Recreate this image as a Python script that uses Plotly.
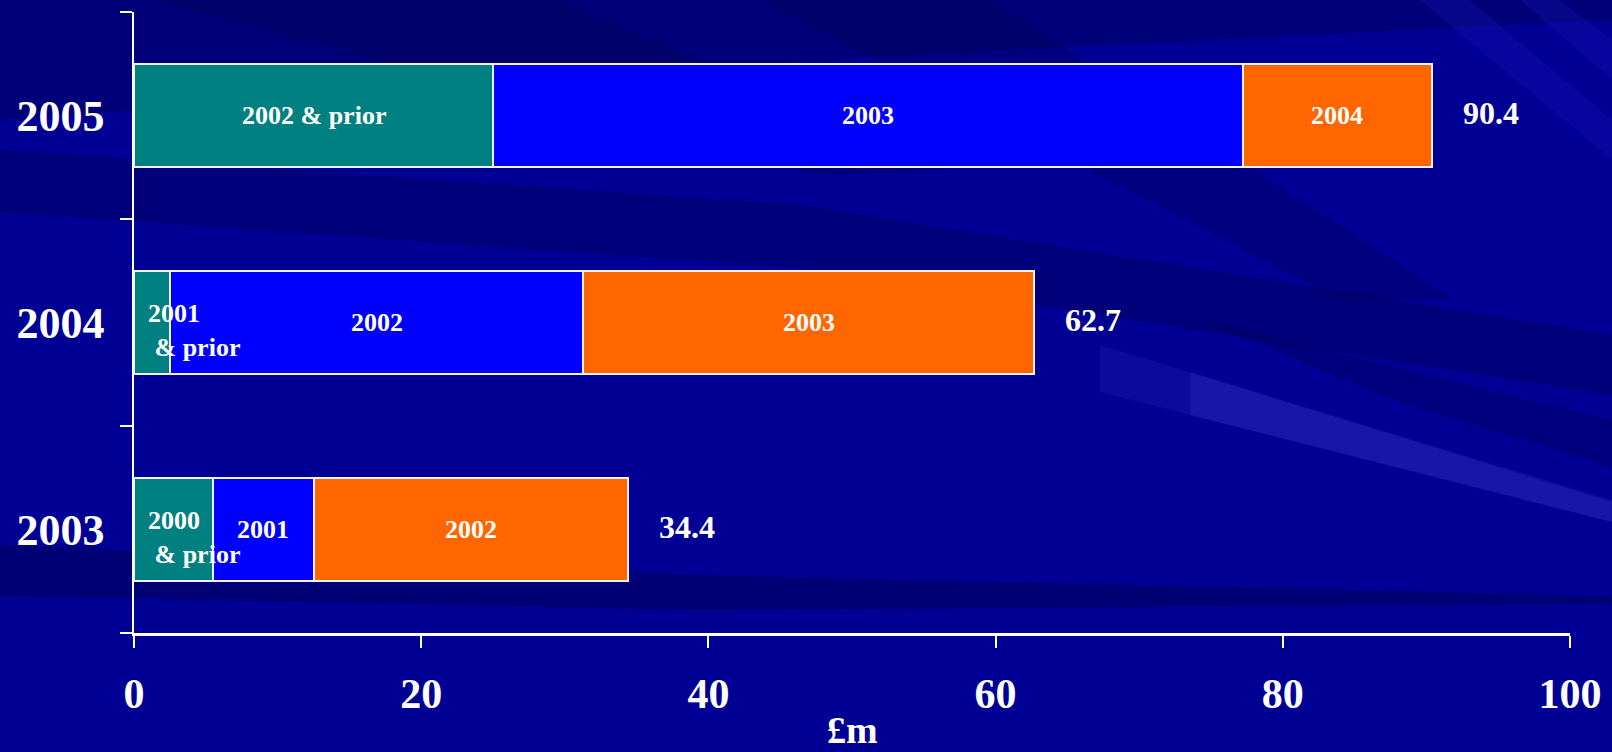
import plotly.graph_objects as go

# Claims development by underwriting year, £m
years = ["2003", "2004", "2005"]
seg_oldest = [5.5, 2.5, 25.0]
seg_middle = [7.0, 28.8, 52.2]
seg_latest = [21.9, 31.4, 13.2]
totals = [34.4, 62.7, 90.4]

lbl_oldest = ["2000<br>\u00a0& prior", "2001<br>\u00a0& prior", "2002 & prior"]
lbl_middle = ["2001", "2002", "2003"]
lbl_latest = ["2002", "2003", "2004"]

x_ticks = [0, 20, 40, 60, 80, 100]
x_title = "£m"

FONT = "Liberation Serif, Times New Roman, serif"
WHITE = "#ffffff"
COLORS = ["#008080", "#0000ff", "#ff6600"]

FIG_W, FIG_H = 1612, 752
M_L, M_R, M_T, M_B = 134, 42, 12, 119
PLOT_W = FIG_W - M_L - M_R
PLOT_H = FIG_H - M_T - M_B

fig = go.Figure()
for vals, col in zip([seg_oldest, seg_middle, seg_latest], COLORS):
    fig.add_trace(go.Bar(
        y=years, x=vals, orientation="h", width=0.5,
        marker=dict(color=col, line=dict(color="#f2f2f2", width=2)),
        hoverinfo="skip", showlegend=False,
    ))

annotations = []
label_font = dict(family=FONT, size=26, color=WHITE, weight="bold")
for i, yr in enumerate(years):
    bounds = [0, seg_oldest[i], seg_oldest[i] + seg_middle[i], totals[i]]
    labels = [lbl_oldest[i], lbl_middle[i], lbl_latest[i]]
    for k, lab in enumerate(labels):
        if "<br>" in lab:
            # two-line label sits at the start of the bar, spilling past a narrow segment
            annotations.append(dict(
                x=bounds[k], y=i, xref="x", yref="y", text=lab,
                xanchor="left", yanchor="middle", align="left",
                xshift=12, yshift=-8, showarrow=False, font=label_font))
        else:
            annotations.append(dict(
                x=(bounds[k] + bounds[k + 1]) / 2, y=i, xref="x", yref="y",
                text=lab, xanchor="center", yanchor="middle",
                showarrow=False, font=label_font))
    annotations.append(dict(
        x=totals[i], y=i, xref="x", yref="y", text=f"{totals[i]:.1f}",
        xanchor="left", yanchor="middle", xshift=29, yshift=3, showarrow=False,
        font=dict(family=FONT, size=32, color=WHITE, weight="bold")))

# axis unit label under the tick labels
annotations.append(dict(
    x=0.5, y=0, xref="paper", yref="paper", text=x_title,
    xanchor="center", yanchor="middle", yshift=-97, showarrow=False,
    font=dict(family=FONT, size=38, color=WHITE, weight="bold")))


def px_path(points):
    """Closed SVG path in paper coordinates from figure-pixel points."""
    pts = [((x - M_L) / PLOT_W, (FIG_H - M_B - y) / PLOT_H) for x, y in points]
    return "M " + " L ".join(f"{x:.4f},{y:.4f}" for x, y in pts) + " Z"


# Slide backdrop: soft diagonal streaks over a deep blue field
backdrop = [
    ([(0, 0), (1612, 0), (1612, 20), (900, 55), (0, 120)], "rgba(0,0,60,0.30)"),
    ([(150, 0), (560, 0), (950, 170), (820, 175)], "rgba(0,0,60,0.22)"),
    ([(760, 0), (990, 0), (1456, 300), (1340, 300)], "rgba(0,0,60,0.22)"),
    ([(0, 150), (800, 205), (1612, 335), (1612, 395), (800, 268), (0, 212)], "rgba(0,0,60,0.28)"),
    ([(1200, 320), (1612, 420), (1612, 467), (1393, 400)], "rgba(0,0,60,0.25)"),
    ([(0, 545), (700, 575), (1612, 596), (1612, 604), (700, 610), (0, 596)], "rgba(0,0,60,0.35)"),
    ([(1100, 345), (1612, 500), (1612, 522), (1100, 392)], "rgba(40,40,190,0.25)"),
    ([(1190, 372), (1612, 502), (1612, 522), (1190, 415)], "rgba(40,40,190,0.40)"),
    ([(1420, 0), (1470, 0), (1612, 120), (1612, 160)], "rgba(30,30,200,0.22)"),
    ([(1520, 0), (1560, 0), (1612, 40), (1612, 80)], "rgba(30,30,200,0.22)"),
]
shapes = [dict(type="path", xref="paper", yref="paper", path=px_path(p),
               fillcolor=c, line=dict(width=0), layer="below") for p, c in backdrop]

fig.update_layout(
    width=FIG_W, height=FIG_H,
    margin=dict(l=M_L, r=M_R, t=M_T, b=M_B, pad=0, autoexpand=False),
    barmode="stack",
    paper_bgcolor="#000094",
    plot_bgcolor="rgba(0,0,0,0)",
    shapes=shapes,
    annotations=annotations,
    xaxis=dict(
        range=[0, 100], tickvals=x_ticks, ticktext=[str(v) for v in x_ticks],
        showgrid=False, zeroline=False, automargin=False,
        showline=True, linecolor=WHITE, linewidth=3,
        ticks="outside", ticklen=12, tickwidth=1.5, tickcolor=WHITE,
        tickfont=dict(family=FONT, size=42, color=WHITE, weight="bold"),
        ticklabelstandoff=10,
        fixedrange=True,
    ),
    yaxis=dict(
        type="category", categoryorder="array", categoryarray=years,
        range=[-0.5, 2.5], showgrid=False, zeroline=False, automargin=False,
        showline=True, linecolor=WHITE, linewidth=1.5,
        ticks="outside", tickson="boundaries", ticklen=12, tickwidth=1.5,
        tickcolor=WHITE,
        tickfont=dict(family=FONT, size=44, color=WHITE, weight="bold"),
        ticklabelstandoff=19,
        fixedrange=True,
    ),
)

fig.write_html("out.html", config={"displayModeBar": False})
